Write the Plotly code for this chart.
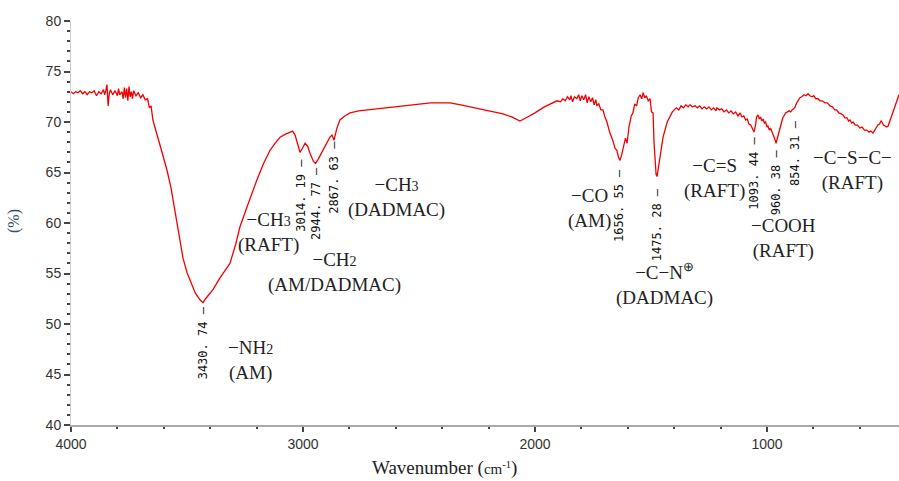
import plotly.graph_objects as go

# ---- spectrum (wavenumber cm-1, transmittance %), by region ----
wn_high = [4000, 3990, 3980, 3970, 3960, 3950, 3940, 3930, 3920, 3910, 3900, 3890, 3880, 3870,
           3860, 3855, 3850, 3845, 3840, 3835, 3830, 3820, 3810, 3800, 3795, 3790, 3780, 3775,
           3770, 3765, 3760, 3755, 3750, 3745, 3740, 3735, 3730, 3720, 3710, 3700, 3690, 3680,
           3670, 3662, 3655, 3647, 3640, 3625, 3610]
t_high = [73.0, 72.8, 73.0, 72.9, 73.1, 72.8, 73.0, 72.7, 73.0, 72.9, 73.1, 72.6, 73.0, 72.8,
          73.2, 72.7, 73.1, 73.7, 71.6, 72.8, 73.2, 72.7, 73.1, 72.6, 73.3, 72.7, 73.0, 72.3,
          73.4, 72.4, 73.3, 72.1, 73.5, 72.5, 73.0, 72.3, 73.1, 72.6, 72.9, 72.4, 72.7, 72.2,
          72.3, 71.4, 71.6, 70.2, 69.6, 68.5, 67.2]

wn_nh = [3586, 3570, 3552, 3535, 3517, 3500, 3487, 3465, 3444, 3431, 3420, 3400, 3388, 3360,
         3340, 3315, 3290, 3272, 3241, 3220, 3198, 3170, 3142, 3120, 3099, 3075, 3056, 3045,
         3034, 3022, 3013, 3000, 2991, 2980, 2970, 2955, 2946, 2935, 2914, 2895, 2884, 2875,
         2866, 2855, 2841, 2820, 2797, 2760, 2720, 2668, 2600, 2526, 2450, 2400, 2366, 2320,
         2280, 2220, 2180, 2138, 2100, 2065, 2040, 2000, 1960, 1940]
t_nh = [65.2, 63.6, 61.2, 58.8, 56.5, 55.1, 54.3, 53.1, 52.4, 52.1, 52.5, 53.0, 53.4, 54.5,
        55.2, 56.0, 57.9, 59.6, 61.6, 63.0, 64.3, 65.9, 67.2, 67.9, 68.5, 68.8, 69.0, 69.1,
        68.7, 67.8, 67.0, 67.5, 67.9, 67.6, 66.9, 66.1, 65.9, 66.3, 67.2, 68.0, 68.5, 68.7,
        68.2, 69.3, 70.2, 70.6, 70.9, 71.1, 71.2, 71.4, 71.5, 71.7, 71.9, 71.9, 71.9, 71.7,
        71.5, 71.2, 71.0, 70.8, 70.5, 70.1, 70.4, 70.9, 71.5, 71.7]

wn_mid = [1922, 1905, 1890, 1880, 1870, 1860, 1850, 1845, 1838, 1830, 1820, 1812, 1805, 1798,
          1790, 1782, 1775, 1768, 1760, 1752, 1745, 1738, 1733, 1725, 1716, 1707, 1700, 1690,
          1677, 1665, 1655, 1647, 1640, 1634, 1628, 1620, 1610, 1603, 1595, 1585, 1578, 1570,
          1562, 1555, 1547, 1540, 1534, 1527, 1520, 1512, 1504, 1498, 1491, 1487, 1483, 1478,
          1474, 1468, 1460, 1448, 1430, 1418, 1408]
t_mid = [71.9, 72.1, 72.0, 72.3, 72.1, 72.5, 72.2, 72.6, 72.0, 72.5, 72.3, 72.7, 72.1, 72.6,
         72.2, 72.7, 71.9, 72.5, 72.0, 72.4, 71.7, 72.2, 71.6, 71.8, 71.2, 71.2, 70.6, 70.0,
         68.9, 68.2, 67.4, 67.2, 66.5, 66.2, 66.6, 67.5, 68.4, 67.9, 69.5, 70.6, 70.9, 71.8,
         71.6, 72.4, 72.7, 72.3, 72.9, 72.4, 72.6, 72.1, 72.3, 71.0, 70.9, 68.0, 65.9, 64.8,
         64.6, 65.6, 67.0, 68.5, 70.0, 70.6, 71.0]

wn_low = [1400, 1390, 1380, 1370, 1360, 1350, 1340, 1332, 1322, 1310, 1300, 1290, 1280, 1270,
          1260, 1250, 1240, 1230, 1220, 1216, 1205, 1195, 1185, 1175, 1165, 1155, 1145, 1135,
          1125, 1116, 1108, 1100, 1092, 1085, 1078, 1070, 1064, 1060, 1056, 1050, 1045, 1039,
          1033, 1028, 1022, 1017, 1011, 1006, 1000, 996, 990, 985, 978, 972, 966, 961,
          956, 950, 944, 938, 932, 926, 920, 912, 905, 898, 892, 885, 879, 872,
          865, 858, 850, 840, 832, 823, 815, 806, 798, 790, 780, 772, 762, 750,
          740, 728, 718, 708, 700, 690, 680, 672, 664, 655, 648, 642, 635, 629,
          620, 610, 600, 590, 580, 569, 560, 553, 543, 536, 530, 522, 515, 508,
          504, 498, 490, 484, 478, 472, 465, 458, 452, 447, 442, 437, 433, 431]
t_low = [71.2, 71.4, 71.2, 71.6, 71.4, 71.7, 71.5, 71.7, 71.5, 71.6, 71.4, 71.6, 71.3, 71.5,
         71.3, 71.5, 71.2, 71.4, 71.1, 71.4, 71.2, 71.3, 71.0, 71.2, 70.9, 71.1, 70.8, 71.0,
         70.6, 70.9, 70.5, 70.6, 70.2, 70.3, 69.8, 69.7, 69.4, 69.1, 69.0, 69.6, 70.5, 70.7,
         70.3, 70.5, 70.1, 70.3, 69.9, 70.0, 69.5, 69.6, 69.2, 69.4, 69.0, 68.8, 68.3, 67.9,
         68.4, 68.9, 69.5, 69.9, 70.4, 70.7, 70.9, 71.0, 71.1, 71.0, 71.2, 71.3, 71.5, 71.9,
         72.2, 72.4, 72.5, 72.7, 72.6, 72.8, 72.6, 72.5, 72.6, 72.3, 72.3, 72.1, 72.1, 71.9,
         71.9, 71.6, 71.5, 71.2, 71.2, 70.9, 70.8, 70.7, 70.4, 70.4, 70.1, 70.2, 69.9, 70.0,
         69.7, 69.7, 69.4, 69.5, 69.2, 69.2, 69.0, 69.1, 68.9, 69.2, 69.3, 69.7, 69.8, 70.1,
         70.0, 69.7, 69.6, 69.5, 69.6, 70.0, 70.4, 70.9, 71.3, 71.6, 72.0, 72.4, 72.6, 72.7]

wavenumber = wn_high + wn_nh + wn_mid + wn_low
transmittance = t_high + t_nh + t_mid + t_low

# ---- peak labels (vertical numbers) ----
peak_labels = ["3430. 74", "3014. 19", "2944. 77", "2867. 63", "1656. 55",
               "1475. 28", "1093. 44", "960. 38", "854. 31"]
peak_x = [3431, 3009, 2944, 2866, 1638, 1474, 1056, 961, 879]
peak_top = [51.8, 66.5, 65.7, 68.2, 65.5, 63.5, 68.6, 67.4, 70.3]

# ---- group assignments (two lines each) ----
group_line1 = ["−NH<span style='font-size:14px'>2</span>",
               "−CH<span style='font-size:14px'>3</span>",
               "−CH<span style='font-size:14px'>2</span>",
               "−CH<span style='font-size:14px'>3</span>",
               "−CO", "−C−N<sup>⊕</sup>", "−C=S", "−COOH", "−C−S−C−"]
group_line2 = ["(AM)", "(RAFT)", "(AM/DADMAC)", "(DADMAC)", "(AM)",
               "(DADMAC)", "(RAFT)", "(RAFT)", "(RAFT)"]
group_x = [3226, 3147, 2864, 2599, 1767, 1440, 1228, 931, 630]
group_y = [46.4, 59.05, 55.1, 62.55, 61.4, 54.0, 64.4, 58.5, 65.15]

x_ticks = [4000, 3000, 2000, 1000]
x_minor = [3800, 3600, 3400, 3200, 2800, 2600, 2400, 2200, 1800, 1600, 1400, 1200, 800, 600]
y_ticks = [40, 45, 50, 55, 60, 65, 70, 75, 80]

fig = go.Figure()
fig.add_trace(go.Scatter(x=wavenumber, y=transmittance, mode="lines",
                         line=dict(color="#f20000", width=1.3), showlegend=False,
                         hoverinfo="skip"))

anns = []
for lab, px, pt in zip(peak_labels, peak_x, peak_top):
    anns.append(dict(x=px, y=pt, xref="x", yref="y", text=lab + " —", textangle=-90,
                     showarrow=False, xanchor="center", yanchor="top", borderpad=0,
                     font=dict(family="DejaVu Sans Mono", size=12, color="#111")))
for t1, t2, gx, gy in zip(group_line1, group_line2, group_x, group_y):
    anns.append(dict(x=gx, y=gy, xref="x", yref="y", text=t1 + "<br>" + t2,
                     showarrow=False, xanchor="center", yanchor="middle", align="center",
                     borderpad=0,
                     font=dict(family="Liberation Serif", size=19, color="#222")))

# axis titles placed in plot-area paper coordinates
anns.append(dict(x=(444 - 71) / 828, y=(425 - 468) / 404, xref="paper", yref="paper",
                 text="Wavenumber (<span style='font-size:15px'>cm<sup>-1</sup></span>)",
                 showarrow=False, xanchor="center", yanchor="middle",
                 font=dict(family="Liberation Serif", size=19, color="#222")))
anns.append(dict(x=(14 - 71) / 828, y=(425 - 221) / 404, xref="paper", yref="paper",
                 text="(%)", textangle=-90, showarrow=False, xanchor="center",
                 yanchor="middle",
                 font=dict(family="Liberation Serif", size=16, color="#3a4a6e")))

fig.update_layout(
    width=899, height=481,
    margin=dict(l=71, r=0, t=21, b=56),
    paper_bgcolor="white", plot_bgcolor="white",
    annotations=anns,
    xaxis=dict(range=[4000, 431], tickvals=x_ticks, ticktext=[str(v) for v in x_ticks],
               ticks="outside", ticklen=5, tickwidth=1.5, tickcolor="#444",
               showline=True, linecolor="#aaaaaa", linewidth=1.5,
               showgrid=False, zeroline=False,
               tickfont=dict(family="Liberation Sans", size=14, color="#333"),
               minor=dict(tickvals=x_minor, ticks="outside", ticklen=2, tickwidth=2,
                          tickcolor="#444", showgrid=False)),
    yaxis=dict(range=[40, 80], tickvals=y_ticks, ticks="outside", ticklen=6,
               tickwidth=1.5, tickcolor="#444", showline=True, linecolor="#cccccc",
               linewidth=1, showgrid=False, zeroline=False,
               tickfont=dict(family="Liberation Sans", size=14, color="#333"),
               minor=dict(dtick=1, ticks="outside", ticklen=3, tickwidth=1.5,
                          tickcolor="#444", showgrid=False)),
)

fig.write_html("out.html")
